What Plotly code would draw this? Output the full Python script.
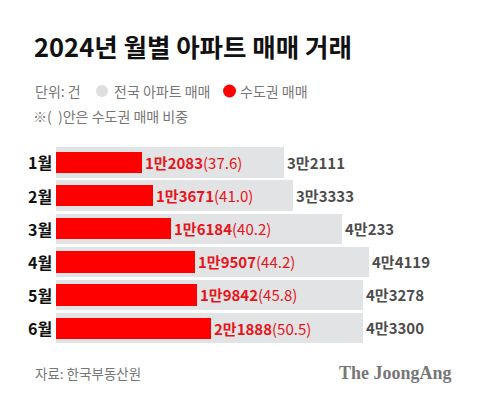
import plotly.graph_objects as go

months = ["1월", "2월", "3월", "4월", "5월", "6월"]
national = [32111, 33333, 40233, 44119, 43278, 43300]
capital = [12083, 13671, 16184, 19507, 19842, 21888]
share = [37.6, 41.0, 40.2, 44.2, 45.8, 50.5]

title = "2024년 월별 아파트 매매 거래"
unit_text = "단위: 건"
legend_national = "전국 아파트 매매"
legend_capital = "수도권 매매"
note_text = "※(  )안은 수도권 매매 비중"
source_text = "자료: 한국부동산원"
brand_text = "The JoongAng"

W, H = 480, 399
KFONT = "Noto Sans CJK KR"
GRAY_BAR = "#e1e3e4"
RED = "#ff0000"
RED_TEXT = "#e8141b"


def man(v):
    return f"{v // 10000}만{v % 10000}"


nat_text = [f"<b>{man(v)}</b>" for v in national]
cap_text = [f"<b>{man(v)}</b>({s:.1f})" for v, s in zip(capital, share)]

fig = go.Figure()
fig.add_trace(go.Bar(
    y=months, x=national, orientation="h", width=0.92,
    marker=dict(color=GRAY_BAR, line=dict(width=0)),
    text=nat_text, textposition="outside", cliponaxis=False,
    constraintext="none",
    textfont=dict(family=KFONT, size=15, color="#4d4d4d"),
    hoverinfo="skip",
))
fig.add_trace(go.Bar(
    y=months, x=capital, orientation="h", width=0.64,
    marker=dict(color=RED, line=dict(width=0)),
    text=cap_text, textposition="outside", cliponaxis=False,
    constraintext="none",
    textfont=dict(family=KFONT, size=15, color=RED_TEXT),
    hoverinfo="skip",
))

# plot geometry (pixels)
x0_px = 56
px_per_unit = 0.0071
row_top = 145.9
row_bot = 344.6

fig.update_layout(
    width=W, height=H,
    margin=dict(l=0, r=0, t=0, b=0),
    paper_bgcolor="white", plot_bgcolor="white",
    barmode="overlay", bargap=0, showlegend=False,
    xaxis=dict(domain=[x0_px / W, 1], range=[0, (W - x0_px) / px_per_unit],
               visible=False, fixedrange=True),
    yaxis=dict(domain=[1 - row_bot / H, 1 - row_top / H], range=[5.5, -0.5],
               visible=False, fixedrange=True),
)

ann = []
ann.append(dict(text=f"<b>{title}</b>", x=32 / W, y=1 - 45.5 / H, xref="paper", yref="paper",
                xanchor="left", yanchor="middle", showarrow=False,
                font=dict(family=KFONT, size=25.5, color="#111111", weight=900)))
ann.append(dict(text=unit_text, x=33 / W, y=1 - 91 / H, xref="paper", yref="paper",
                xanchor="left", yanchor="middle", showarrow=False,
                font=dict(family=KFONT, size=14, color="#777777")))
ann.append(dict(text=legend_national, x=112 / W, y=1 - 91 / H, xref="paper", yref="paper",
                xanchor="left", yanchor="middle", showarrow=False,
                font=dict(family=KFONT, size=14, color="#777777")))
ann.append(dict(text=legend_capital, x=238 / W, y=1 - 91 / H, xref="paper", yref="paper",
                xanchor="left", yanchor="middle", showarrow=False,
                font=dict(family=KFONT, size=14, color="#777777")))
ann.append(dict(text=note_text, x=31 / W, y=1 - 116 / H, xref="paper", yref="paper",
                xanchor="left", yanchor="middle", showarrow=False,
                font=dict(family=KFONT, size=14, color="#777777")))
for m in months:
    ann.append(dict(text=f"<b>{m}</b>", x=0, xref="x", y=m, yref="y",
                    xanchor="right", yanchor="middle", xshift=-2, showarrow=False,
                    font=dict(family=KFONT, size=16, color="#111111")))
ann.append(dict(text=source_text, x=33 / W, y=1 - 373 / H, xref="paper", yref="paper",
                xanchor="left", yanchor="middle", showarrow=False,
                font=dict(family=KFONT, size=13.5, color="#777777")))
ann.append(dict(text=f"<b>{brand_text}</b>", x=454 / W, y=1 - 373 / H, xref="paper", yref="paper",
                xanchor="right", yanchor="middle", showarrow=False,
                font=dict(family="Liberation Serif", size=18, color="#777777")))
fig.update_layout(annotations=ann)

fig.update_layout(shapes=[
    dict(type="circle", xref="paper", yref="paper",
         x0=96 / W, x1=108 / W, y0=1 - 97 / H, y1=1 - 85 / H,
         fillcolor="#dcdee0", line=dict(width=0)),
    dict(type="circle", xref="paper", yref="paper",
         x0=223 / W, x1=236 / W, y0=1 - 97.5 / H, y1=1 - 84.5 / H,
         fillcolor=RED, line=dict(width=0)),
])

fig.write_html("out.html", config={"displayModeBar": False},
               post_script="document.body.style.margin='0';document.body.style.overflow='hidden';")
